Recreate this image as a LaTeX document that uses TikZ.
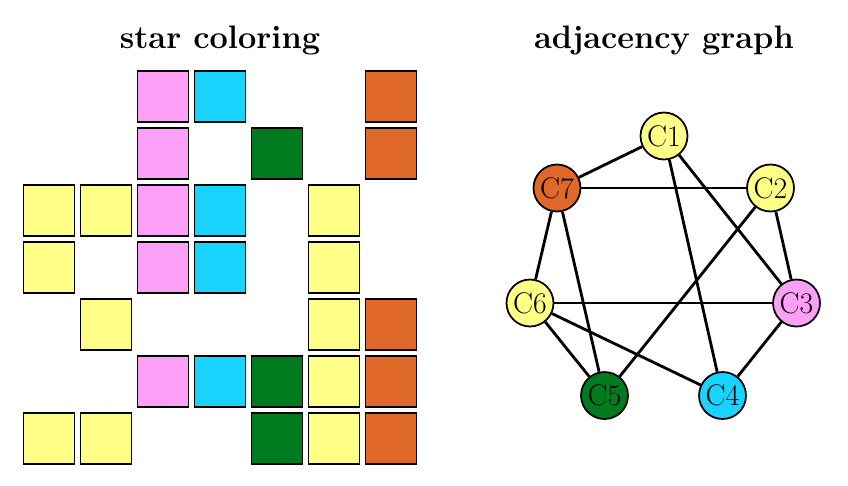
\documentclass[tikz,border=0pt]{standalone}
\usepackage{xcolor}
\definecolor{cpink}{HTML}{FFA0F8}
\definecolor{ccyan}{HTML}{19D3FF}
\definecolor{cgreen}{HTML}{007A1F}
\definecolor{corange}{HTML}{E06828}
\definecolor{cyellow}{HTML}{FFFF88}
\usepackage{tikz}
\usetikzlibrary{positioning}

\begin{document}
\begin{tikzpicture}[x=0.02cm, y=-0.02cm,
    cell/.style={draw=black, line width=1pt, minimum size=1.02cm, inner sep=0pt},
    vert/.style={draw=black, circle, line width=1pt, minimum size=0.94cm, inner sep=0pt,
                 font=\fontsize{17}{19}\selectfont},
    edge/.style={line width=1.6pt},
    title/.style={font=\fontsize{18.5}{21}\selectfont\bfseries}]
    \useasboundingbox (0,0) rectangle (848,485);
    \node[title] (tl) at (220,40) {star coloring};
    \node[title] (tr) at (664,40) {adjacency graph};
    % star coloring of the matrix
    \node[cell, fill=cpink]   (s13) at (163,96.5) {};
    \node[cell, fill=ccyan]   (s14) at (220,96.5) {};
    \node[cell, fill=corange] (s17) at (391,96.5) {};
    \node[cell, fill=cpink]   (s23) at (163,153.5) {};
    \node[cell, fill=cgreen]  (s25) at (277,153.5) {};
    \node[cell, fill=corange] (s27) at (391,153.5) {};
    \node[cell, fill=cyellow] (s31) at (49,210.5) {};
    \node[cell, fill=cyellow] (s32) at (106,210.5) {};
    \node[cell, fill=cpink]   (s33) at (163,210.5) {};
    \node[cell, fill=ccyan]   (s34) at (220,210.5) {};
    \node[cell, fill=cyellow] (s36) at (334,210.5) {};
    \node[cell, fill=cyellow] (s41) at (49,267.5) {};
    \node[cell, fill=cpink]   (s43) at (163,267.5) {};
    \node[cell, fill=ccyan]   (s44) at (220,267.5) {};
    \node[cell, fill=cyellow] (s46) at (334,267.5) {};
    \node[cell, fill=cyellow] (s52) at (106,324.5) {};
    \node[cell, fill=cyellow] (s56) at (334,324.5) {};
    \node[cell, fill=corange] (s57) at (391,324.5) {};
    \node[cell, fill=cpink]   (s63) at (163,381.5) {};
    \node[cell, fill=ccyan]   (s64) at (220,381.5) {};
    \node[cell, fill=cgreen]  (s65) at (277,381.5) {};
    \node[cell, fill=cyellow] (s66) at (334,381.5) {};
    \node[cell, fill=corange] (s67) at (391,381.5) {};
    \node[cell, fill=cyellow] (s71) at (49,438.5) {};
    \node[cell, fill=cyellow] (s72) at (106,438.5) {};
    \node[cell, fill=cgreen]  (s75) at (277,438.5) {};
    \node[cell, fill=cyellow] (s76) at (334,438.5) {};
    \node[cell, fill=corange] (s77) at (391,438.5) {};
    % adjacency graph
    \node[vert, fill=cyellow] (c1) at (664,136) {C1};
    \node[vert, fill=cyellow] (c2) at (770.5,188) {C2};
    \node[vert, fill=cpink]   (c3) at (796.5,303) {C3};
    \node[vert, fill=ccyan]   (c4) at (722.5,395.5) {C4};
    \node[vert, fill=cgreen]  (c5) at (604.5,395.5) {C5};
    \node[vert, fill=cyellow] (c6) at (530,303) {C6};
    \node[vert, fill=corange] (c7) at (557,188) {C7};
    \draw[edge] (c1) -- (c7);
    \draw[edge] (c1) -- (c3);
    \draw[edge] (c1) -- (c4);
    \draw[edge] (c7) -- (c2);
    \draw[edge] (c7) -- (c6);
    \draw[edge] (c7) -- (c5);
    \draw[edge] (c2) -- (c5);
    \draw[edge] (c2) -- (c3);
    \draw[edge] (c6) -- (c3);
    \draw[edge] (c6) -- (c5);
    \draw[edge] (c6) -- (c4);
    \draw[edge] (c3) -- (c4);
\end{tikzpicture}
\end{document}
